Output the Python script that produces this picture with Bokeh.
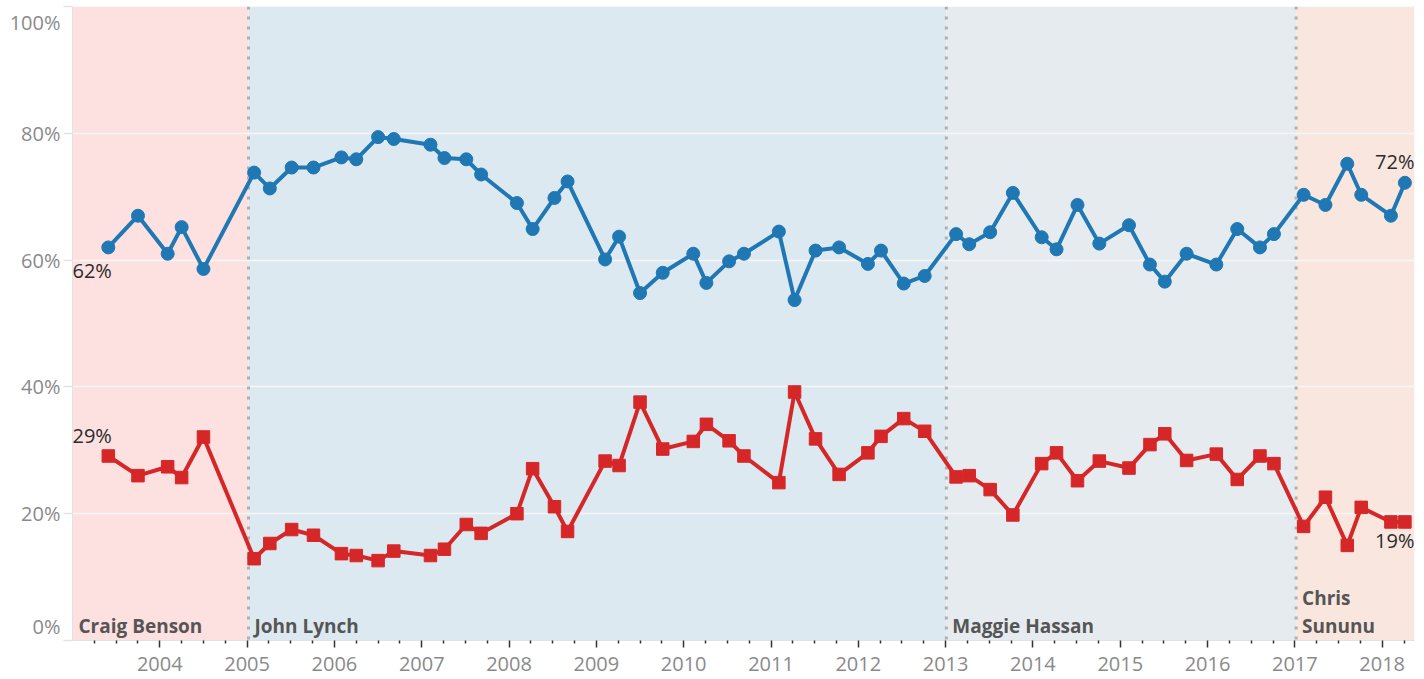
from bokeh.plotting import figure
from bokeh.models import (Range1d, FixedTicker, PrintfTickFormatter, Span, Label,
                          LabelSet, ColumnDataSource, LinearAxis)
from bokeh.core.properties import value
from bokeh.embed import file_html
from bokeh.resources import INLINE

# ---- data (poll dates as decimal years, % approve / % disapprove) ----
poll_dates = [2003.41, 2003.75, 2004.09, 2004.25, 2004.50,
              2005.08, 2005.26, 2005.51, 2005.76,
              2006.08, 2006.25, 2006.50, 2006.68,
              2007.10, 2007.26, 2007.51, 2007.68,
              2008.09, 2008.27, 2008.52, 2008.67,
              2009.10, 2009.26, 2009.50, 2009.76,
              2010.11, 2010.26, 2010.52, 2010.69,
              2011.09, 2011.27, 2011.51, 2011.78,
              2012.11, 2012.26, 2012.52, 2012.76,
              2013.12, 2013.27, 2013.51, 2013.77,
              2014.10, 2014.27, 2014.51, 2014.76,
              2015.10, 2015.34, 2015.51, 2015.76,
              2016.10, 2016.34, 2016.60, 2016.76,
              2017.10, 2017.35, 2017.60, 2017.76,
              2018.10, 2018.26]

approve = [62.0, 67.0, 61.0, 65.2, 58.6,
           73.8, 71.3, 74.6, 74.6,
           76.2, 75.9, 79.4, 79.1,
           78.2, 76.1, 75.9, 73.5,
           69.0, 64.9, 69.8, 72.4,
           60.1, 63.7, 54.8, 58.0,
           61.0, 56.4, 59.8, 61.0,
           64.5, 53.7, 61.5, 62.0,
           59.4, 61.5, 56.3, 57.5,
           64.1, 62.5, 64.4, 70.6,
           63.6, 61.7, 68.7, 62.6,
           65.5, 59.3, 56.6, 61.0,
           59.3, 64.9, 62.0, 64.1,
           70.3, 68.7, 75.2, 70.3,
           67.0, 72.2]

disapprove = [29.1, 26.0, 27.4, 25.7, 32.1,
              12.9, 15.3, 17.5, 16.6,
              13.7, 13.4, 12.6, 14.1,
              13.4, 14.4, 18.3, 16.9,
              20.0, 27.1, 21.1, 17.2,
              28.3, 27.6, 37.6, 30.2,
              31.4, 34.1, 31.5, 29.1,
              24.9, 39.2, 31.8, 26.2,
              29.6, 32.2, 35.0, 33.0,
              25.8, 26.0, 23.8, 19.8,
              27.9, 29.6, 25.2, 28.3,
              27.2, 30.9, 32.6, 28.4,
              29.4, 25.4, 29.1, 27.9,
              18.0, 22.6, 15.0, 21.0,
              18.7, 18.7]

governors = ["Craig Benson", "John Lynch", "Maggie Hassan", "Chris Sununu"]
term_starts = [2003.0, 2005.016, 2013.008, 2017.014]
band_colors = ["#fde0e0", "#dde9f0", "#e6ebef", "#f9e7df"]

year_ticks = list(range(2004, 2019))
y_ticks = [0, 20, 40, 60, 80, 100]

X_START, X_END = 2003.0, 2018.37

# label positions for the y axis: end labels are nudged inward (as in original)
Y_LABEL_POS = [2.2, 20, 40, 60, 80, 97.4]
Y_LABEL_OVERRIDES = {2.2: "0%", 97.4: "100%"}

BLUE = "#1f77b4"
RED = "#d62728"
FONT = "Open Sans"
TICK_GRAY = "#8a8a8a"
FS = "20px"

p = figure(width=1424, height=679,
           x_range=Range1d(X_START, X_END), y_range=Range1d(0, 100),
           output_backend="svg", toolbar_location=None,
           y_axis_location=None,
           min_border_left=72, min_border_right=10,
           min_border_top=6, min_border_bottom=39,
           outline_line_color=None, background_fill_color="white",
           border_fill_color="white")

# governor bands
term_ends = term_starts[1:] + [X_END]
p.quad(left=term_starts, right=term_ends, bottom=0, top=100,
       fill_color=band_colors, line_color=None, level="image")

# dotted transitions
for s in term_starts[1:]:
    p.add_layout(Span(location=s, dimension="height", line_color="#b0b0b0",
                      line_width=3, line_dash="3 7", level="underlay"))

# grid
p.xgrid.grid_line_color = None
p.ygrid.ticker = FixedTicker(ticks=y_ticks, minor_ticks=[])
p.ygrid.grid_line_color = "#f6f6f6"
p.ygrid.grid_line_width = 1.5

# y axis: labels (end labels nudged inward); light stubs at grid values
yaxis = LinearAxis(ticker=FixedTicker(ticks=Y_LABEL_POS, minor_ticks=y_ticks),
                   formatter=PrintfTickFormatter(format="%d%%"),
                   major_label_overrides=Y_LABEL_OVERRIDES,
                   axis_line_color="#e2e2e2",
                   major_tick_line_color=None, major_tick_out=0, major_tick_in=0,
                   minor_tick_line_color="#e2e2e2", minor_tick_line_width=1.5,
                   minor_tick_out=9, minor_tick_in=0,
                   major_label_standoff=3,
                   major_label_text_font=FONT,
                   major_label_text_font_size=FS,
                   major_label_text_color=TICK_GRAY)
p.add_layout(yaxis, "left")

# x axis
quarters = [y + q for y in range(2003, 2019) for q in (0.25, 0.5, 0.75)
            if y + q < X_END]
p.xaxis.ticker = FixedTicker(ticks=year_ticks, minor_ticks=quarters)
p.xaxis.formatter = PrintfTickFormatter(format="%d")
p.xaxis.axis_line_color = "#e2e2e2"
p.xaxis.major_tick_out = 7
p.xaxis.major_tick_in = 0
p.xaxis.major_tick_line_color = "#333333"
p.xaxis.major_tick_line_width = 1.5
p.xaxis.minor_tick_out = 3
p.xaxis.minor_tick_in = 0
p.xaxis.minor_tick_line_color = "#333333"
p.xaxis.minor_tick_line_width = 1.5
p.xaxis.major_label_standoff = 9
p.xaxis.major_label_text_font = FONT
p.xaxis.major_label_text_font_size = FS
p.xaxis.major_label_text_color = TICK_GRAY

# series
p.line(poll_dates, approve, line_color=BLUE, line_width=4)
p.scatter(poll_dates, approve, marker="circle", size=13, color=BLUE)
p.line(poll_dates, disapprove, line_color=RED, line_width=4)
p.scatter(poll_dates, disapprove, marker="square", size=12.5, color=RED)

# governor names
display = [g if i < 3 else g.replace(" ", "\n") for i, g in enumerate(governors)]
gsrc = ColumnDataSource(dict(x=term_starts, y=[0] * len(governors), text=display))
p.add_layout(LabelSet(x="x", y="y", text="text", source=gsrc,
                      x_offset=6, y_offset=2, text_align="left",
                      text_baseline="bottom", text_line_height=1.05,
                      text_font=value(FONT), text_font_size=value("19px"),
                      text_font_style="bold", text_color="#555555"))

# end value labels
VAL = "#2b2b2b"
p.add_layout(Label(x=X_START, y=approve[0], text=f"{round(approve[0])}%",
                   text_align="left", text_baseline="top", y_offset=-10,
                   text_font=FONT, text_font_size=FS, text_color=VAL))
p.add_layout(Label(x=X_START, y=disapprove[0], text=f"{round(disapprove[0])}%",
                   text_align="left", text_baseline="alphabetic", y_offset=21,
                   text_font=FONT, text_font_size=FS, text_color=VAL))
p.add_layout(Label(x=X_END, y=approve[-1], text=f"{round(approve[-1])}%",
                   text_align="right", text_baseline="alphabetic", y_offset=21,
                   text_font=FONT, text_font_size=FS, text_color=VAL))
p.add_layout(Label(x=X_END, y=disapprove[-1], text=f"{round(disapprove[-1])}%",
                   text_align="right", text_baseline="top", y_offset=-5,
                   text_font=FONT, text_font_size=FS, text_color=VAL))

open("out.html", "w").write(file_html(p, INLINE))
